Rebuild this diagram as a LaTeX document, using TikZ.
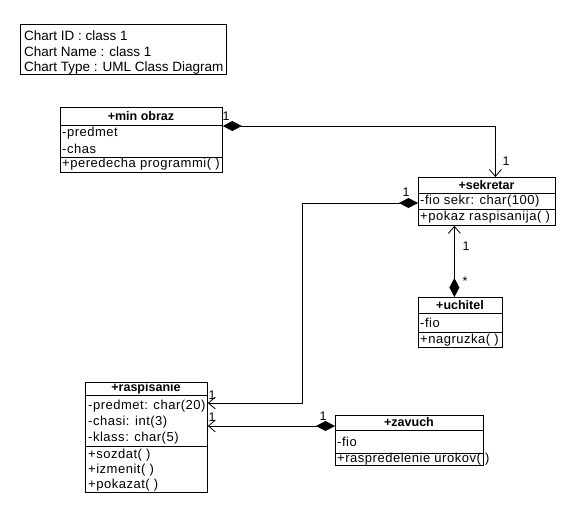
\documentclass[tikz,border=0pt]{standalone}
\usepackage{fontspec}
\setmainfont{Liberation Sans}
\newfontfamily\clsfont[LetterSpace=4]{Liberation Sans}
\usetikzlibrary{arrows.meta,calc}
\begin{document}
\begin{tikzpicture}[x=1pt,y=-1pt,
  box/.style={draw,line width=0.8pt,anchor=north west,inner sep=0pt},
  sep/.style={line width=0.8pt},
  txt/.style={anchor=west,inner sep=0pt,font=\clsfont\fontsize{13}{14}\selectfont},
  ttl/.style={inner sep=0pt,font=\bfseries\fontsize{12.5}{14}\selectfont},
  info/.style={anchor=west,inner sep=0pt,font=\fontsize{13.5}{16}\selectfont},
  mult/.style={inner sep=0pt,font=\fontsize{12.5}{14}\selectfont},
  conn/.style={line width=0.8pt},
  dia/.tip={Diamond[length=19pt,width=10pt,fill=black]},
  opn/.tip={Straight Barb[length=7pt,width=12pt,line width=0.8pt]}
]
\useasboundingbox (0,0) rectangle (576,523);
% info box
\node[box,minimum width=206pt,minimum height=50pt] (info) at (20,24) {};
\node[info] (i1) at (24,36) {Chart ID : class 1};
\node[info] (i2) at (24,52) {Chart Name : class 1};
\node[info] (i3) at (24,68) {Chart Type : UML Class Diagram};

% min obraz
\node[box,minimum width=162pt,minimum height=65pt] (mo) at (60,107) {};
\draw[sep] ([yshift=-18pt]mo.north west) -- ([yshift=-18pt]mo.north east);
\draw[sep] ([yshift=-50pt]mo.north west) -- ([yshift=-50pt]mo.north east);
\node[ttl] (mot) at (141,116) {+min obraz};
\node[txt] (mo1) at (62,133) {-predmet};
\node[txt] (mo2) at (62,148.5) {-chas};
\node[txt] (mo3) at (62,164.5) {+peredecha programmi( )};

% sekretar
\node[box,minimum width=137pt,minimum height=48pt] (sek) at (418,177) {};
\draw[sep] ([yshift=-16pt]sek.north west) -- ([yshift=-16pt]sek.north east);
\draw[sep] ([yshift=-32pt]sek.north west) -- ([yshift=-32pt]sek.north east);
\node[ttl] (sekt) at (486.5,185.5) {+sekretar};
\node[txt] (sek1) at (420,201.5) {-fio sekr: char(100)};
\node[txt] (sek2) at (420,217.5) {+pokaz raspisanija( )};

% uchitel
\node[box,minimum width=84pt,minimum height=50pt] (uch) at (418,297) {};
\draw[sep] ([yshift=-16pt]uch.north west) -- ([yshift=-16pt]uch.north east);
\draw[sep] ([yshift=-35pt]uch.north west) -- ([yshift=-35pt]uch.north east);
\node[ttl] (ucht) at (460,305.5) {+uchitel};
\node[txt] (uch1) at (420,322.5) {-fio};
\node[txt] (uch2) at (420,340) {+nagruzka( )};

% raspisanie
\node[box,minimum width=122pt,minimum height=110pt] (ras) at (85,382) {};
\draw[sep] ([yshift=-13pt]ras.north west) -- ([yshift=-13pt]ras.north east);
\draw[sep] ([yshift=-64pt]ras.north west) -- ([yshift=-64pt]ras.north east);
\node[ttl] (rast) at (146,388.5) {+raspisanie};
\node[txt] (ras1) at (88,406) {-predmet: char(20)};
\node[txt] (ras2) at (88,422) {-chasi: int(3)};
\node[txt] (ras3) at (88,438) {-klass: char(5)};
\node[txt] (ras4) at (88,455) {+sozdat( )};
\node[txt] (ras5) at (88,470) {+izmenit( )};
\node[txt] (ras6) at (88,485) {+pokazat( )};

% zavuch
\node[box,minimum width=148pt,minimum height=50pt] (zav) at (335,415) {};
\draw[sep] ([yshift=-15pt]zav.north west) -- ([yshift=-15pt]zav.north east);
\draw[sep] ([yshift=-38pt]zav.north west) -- ([yshift=-38pt]zav.north east);
\node[ttl] (zavt) at (409,422.5) {+zavuch};
\node[txt] (zav1) at (337,441.5) {-fio};
\node[txt] (zav2) at (337,459.5) {+raspredelenie urokov( )};

% connectors
\draw[conn,dia-opn] ([yshift=-19pt]mo.north east) -| ([xshift=8.5pt]sek.north);
\draw[conn,dia-opn] ([yshift=-26pt]sek.north west) -| (302,403) -- ([yshift=-21pt]ras.north east);
\draw[conn,dia-opn] ([xshift=-6pt]uch.north) -- ([xshift=-6pt]uch.north |- sek.south);
\draw[conn,dia-opn] ([yshift=-11pt]zav.north west) -- ([yshift=-44pt]ras.north east);

% multiplicities
\node[mult] (m1) at (226,116) {1};
\node[mult] (m2) at (506,161) {1};
\node[mult] (m3) at (406,192) {1};
\node[mult] (m4) at (466,246) {1};
\node[mult] (m5) at (465,281) {*};
\node[mult] (m6) at (212,395) {1};
\node[mult] (m7) at (212,417) {1};
\node[mult] (m8) at (323,416) {1};
\end{tikzpicture}
\end{document}
